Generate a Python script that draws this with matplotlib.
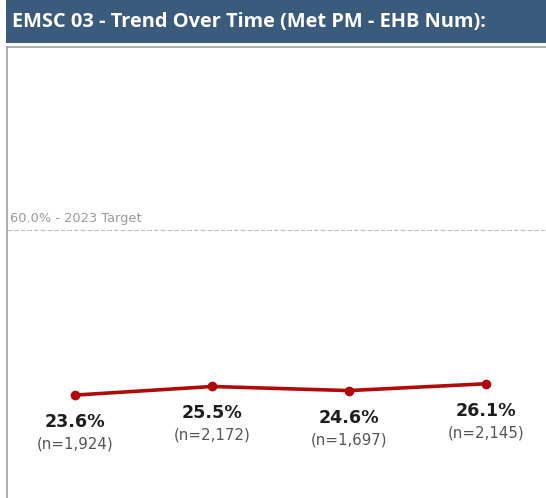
import numpy as np
from matplotlib import pyplot as plt

# data
periods = ['P1', 'P2', 'P3', 'P4']
pct = [23.6, 25.5, 24.6, 26.1]
n_vals = [1924, 2172, 1697, 2145]
target = 60.0
target_label = '60.0% - 2023 Target'
title = 'EMSC 03 - Trend Over Time (Met PM - EHB Num):'

W, H = 546, 498
fig = plt.figure(figsize=(W/100, H/100), dpi=100)

# title bar
fig.patches.append(plt.Rectangle((6/W, 1-43/H), 1-6/W, 43/H, transform=fig.transFigure,
                                 facecolor='#3b5b7d', edgecolor='none'))
fig.text(12/W, 1-22/H, title, color='white', fontsize=14.4, fontweight='bold',
         family='Open Sans', va='center', ha='left')

# plot area
ax = fig.add_axes([6.5/W, 0, 1-6.5/W, 1-47/H])
x = np.arange(len(pct))
ax.plot(x, pct, color='#b00b0b', lw=2.6, marker='o', ms=6, solid_capstyle='round')
ax.axhline(target, color='#bbbbbb', lw=0.8, ls=(0, (4, 2)))
ax.annotate(target_label, (-0.5, target), xytext=(4, 12), textcoords='offset pixels',
            color='#9a9a9a', fontsize=9.4, ha='left', va='center')

for xi, p, n in zip(x, pct, n_vals):
    ax.annotate('{:.1f}%'.format(p), (xi, p), xytext=(0, -27), textcoords='offset pixels',
                ha='center', va='center', fontsize=12.6, fontweight='bold', color='#1e1e1e')
    ax.annotate('(n={:,})'.format(n), (xi, p), xytext=(0, -49), textcoords='offset pixels',
                ha='center', va='center', fontsize=10.8, color='#555555')

ax.set_xlim(-0.5, 3.44)
ax.set_ylim(0.9, 100.4)
ax.set_xticks([])
ax.set_yticks([])
for s in ['right', 'bottom']:
    ax.spines[s].set_visible(False)
for s in ['left', 'top']:
    ax.spines[s].set_color('#a0a0a0')
    ax.spines[s].set_linewidth(1.2)

fig.savefig('out.png', dpi=100)
